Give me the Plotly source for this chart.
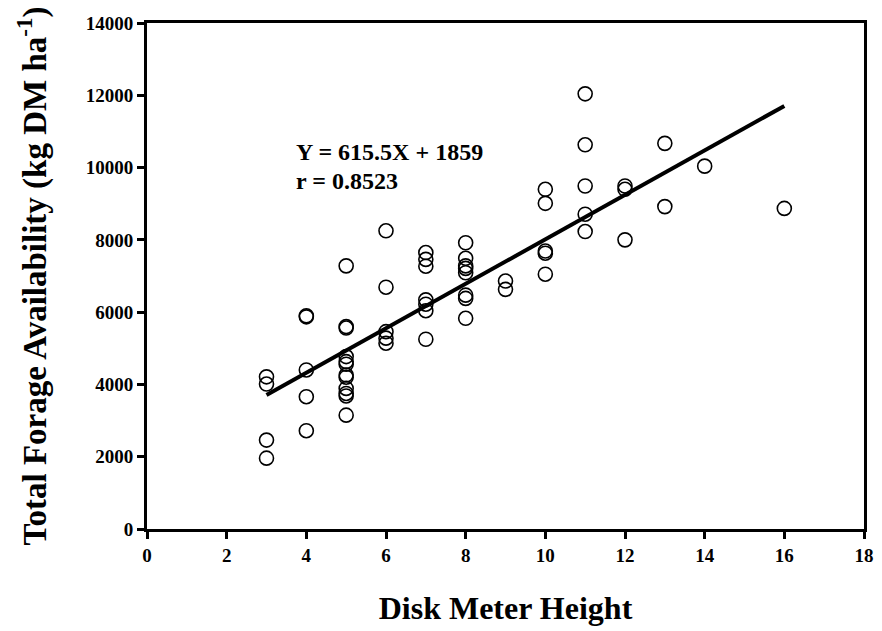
import plotly.graph_objects as go

# Disk meter height readings and matching total forage availability (kg DM/ha)
disk_height = [3, 3, 3, 3,
               4, 4, 4, 4, 4,
               5, 5, 5, 5, 5, 5, 5, 5, 5, 5, 5, 5,
               6, 6, 6, 6, 6,
               7, 7, 7, 7, 7, 7, 7,
               8, 8, 8, 8, 8, 8, 8, 8,
               9, 9,
               10, 10, 10, 10, 10,
               11, 11, 11, 11, 11,
               12, 12, 12,
               13, 13,
               14,
               16]
forage = [4210, 4010, 2460, 1960,
          5900, 5870, 4400, 3660, 2720,
          7280, 5600, 5560, 4770, 4630, 4560, 4260, 4200, 3890, 3750, 3680, 3150,
          8250, 6690, 5460, 5280, 5140,
          7650, 7460, 7270, 6340, 6220, 6040, 5250,
          7920, 7490, 7280, 7210, 7090, 6470, 6380, 5830,
          6860, 6630,
          9400, 9010, 7690, 7630, 7050,
          12040, 10630, 9490, 8710, 8230,
          9490, 9400, 8000,
          10670, 8920,
          10040,
          8870]

# Fitted regression
slope = 615.5
intercept = 1859
fit_x = [3, 16]
fit_y = [slope * x + intercept for x in fit_x]

x_ticks = list(range(0, 19, 2))
y_ticks = list(range(0, 14001, 2000))

font_family = "Liberation Serif, Times New Roman, serif"

fig = go.Figure()
fig.add_trace(go.Scatter(
    x=disk_height, y=forage, mode="markers",
    marker=dict(symbol="circle-open", size=14, color="black", line=dict(width=1.6)),
    showlegend=False, hoverinfo="x+y",
))
fig.add_trace(go.Scatter(
    x=fit_x, y=fit_y, mode="lines",
    line=dict(color="black", width=4),
    showlegend=False, hoverinfo="skip",
))

fig.add_annotation(x=3.7, y=10430, xref="x", yref="y", xanchor="left", yanchor="middle",
                   text="<b>Y = 615.5X + 1859</b>", showarrow=False,
                   font=dict(family=font_family, size=24, color="black"))
fig.add_annotation(x=3.7, y=9640, xref="x", yref="y", xanchor="left", yanchor="middle",
                   text="<b>r = 0.8523</b>", showarrow=False,
                   font=dict(family=font_family, size=24, color="black"))

axis_common = dict(
    showline=True, linecolor="black", linewidth=3, mirror=True,
    showgrid=False, zeroline=False,
    ticks="outside", ticklen=7, tickwidth=3, tickcolor="black",
    tickfont=dict(family=font_family, size=19, color="black"),
)

fig.update_xaxes(
    range=[0, 18], tickvals=x_ticks, ticktext=[f"<b>{v}</b>" for v in x_ticks],
    title=dict(text="<b>Disk Meter Height</b>", standoff=32,
               font=dict(family=font_family, size=32, color="black")),
    **axis_common,
)
fig.update_yaxes(
    range=[0, 14000], tickvals=y_ticks, ticktext=[f"<b>{v}</b>" for v in y_ticks],
    title=dict(text="<b>Total Forage Availability (kg DM ha<sup>-1</sup>)</b>", standoff=30,
               font=dict(family=font_family, size=33, color="black")),
    **axis_common,
)

fig.update_layout(
    width=882, height=631,
    margin=dict(l=147, r=8, t=23, b=102),
    paper_bgcolor="white", plot_bgcolor="white",
)

fig.write_html("out.html")
